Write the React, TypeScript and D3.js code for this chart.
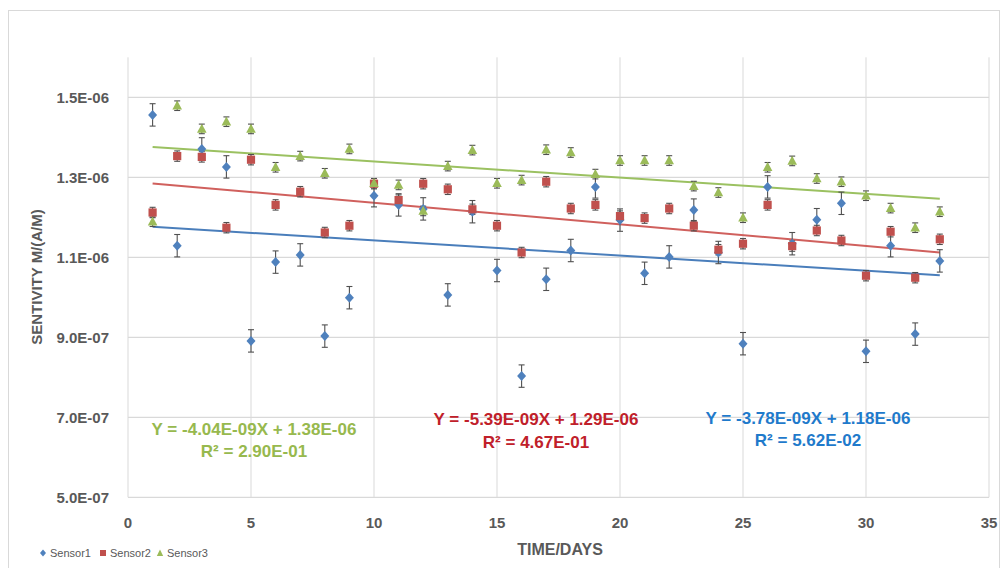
import React from "react";
import * as d3 from "d3";

// Days of measurement
const days = [1, 2, 3, 4, 5, 6, 7, 8, 9, 10, 11, 12, 13, 14, 15, 16, 17, 18, 19, 20, 21, 22, 23, 24, 25, 26, 27, 28, 29, 30, 31, 32, 33];

// Sensitivity values (x 1E-06)
const sensor1 = [1.456, 1.129, 1.371, 1.326, 0.891, 1.088, 1.106, 0.903, 0.999, 1.254, 1.231, 1.221, 1.006, 1.214, 1.067, 0.803, 1.045, 1.117, 1.276, 1.193, 1.06, 1.101, 1.218, 1.112, 0.884, 1.276, 1.134, 1.194, 1.235, 0.865, 1.129, 0.908, 1.091];
const sensor2 = [1.212, 1.353, 1.351, 1.174, 1.344, 1.231, 1.264, 1.162, 1.179, 1.284, 1.243, 1.284, 1.27, 1.22, 1.179, 1.112, 1.289, 1.222, 1.231, 1.203, 1.198, 1.222, 1.179, 1.119, 1.134, 1.231, 1.128, 1.167, 1.142, 1.054, 1.164, 1.049, 1.145];
const sensor3 = [1.189, 1.479, 1.421, 1.439, 1.421, 1.325, 1.353, 1.31, 1.371, 1.285, 1.281, 1.216, 1.328, 1.368, 1.285, 1.293, 1.369, 1.362, 1.308, 1.342, 1.342, 1.342, 1.278, 1.262, 1.199, 1.325, 1.341, 1.297, 1.289, 1.254, 1.223, 1.174, 1.214];

// Error bar half widths (x 1E-06)
const errors = [0.028, 0.013, 0.012];

const seriesNames = ["Sensor1", "Sensor2", "Sensor3"];

// Linear trendlines
const trendSlopes = [-3.78e-9, -5.39e-9, -4.04e-9];
const trendIntercepts = [1.18e-6, 1.29e-6, 1.38e-6];
const trendEquations = ["Y = -3.78E-09X + 1.18E-06", "Y = -5.39E-09X + 1.29E-06", "Y = -4.04E-09X + 1.38E-06"];
const trendR2 = ["R² = 5.62E-02", "R² = 4.67E-01", "R² = 2.90E-01"];

// Axis ticks
const yTicks = [5e-7, 7e-7, 9e-7, 1.1e-6, 1.3e-6, 1.5e-6];
const yTickLabels = ["5.0E-07", "7.0E-07", "9.0E-07", "1.1E-06", "1.3E-06", "1.5E-06"];
const xTicks = [0, 5, 10, 15, 20, 25, 30, 35];

const markerColors = ["#4f81bd", "#c0504d", "#9bbb59"];
const lineColors = ["#4a7ebb", "#d0605d", "#9bc161"];
const textColors = ["#1f7acb", "#c0202a", "#97b94e"];
const font = "'Liberation Sans Narrow', 'Liberation Sans', Arial, sans-serif";

function Marker({ kind, x, y, color }: { kind: number; x: number; y: number; color: string }) {
  if (kind === 0) {
    return <path d={`M${x},${y - 5}L${x + 4.5},${y}L${x},${y + 5}L${x - 4.5},${y}Z`} fill={color} />;
  }
  if (kind === 1) {
    return <rect x={x - 4.1} y={y - 4.1} width={8.2} height={8.2} fill={color} />;
  }
  return <path d={`M${x},${y - 5.2}L${x + 4.8},${y + 3.8}L${x - 4.8},${y + 3.8}Z`} fill={color} />;
}

export default function App() {
  const left = 128;
  const right = 989;
  const top = 57.3;
  const bottom = 497.3;

  const x = d3.scaleLinear().domain([0, 35]).range([left, right]);
  const y = d3.scaleLinear().domain([5e-7, 1.6e-6]).range([bottom, top]);

  const series = [sensor1, sensor2, sensor3];
  const firstDay = d3.min(days) as number;
  const lastDay = d3.max(days) as number;
  const trendLine = d3
    .line<[number, number]>()
    .x((d) => x(d[0]))
    .y((d) => y(d[1]));

  const labelPos = [
    { cx: 808, y1: 424, y2: 446 },
    { cx: 536, y1: 425, y2: 448 },
    { cx: 254, y1: 435, y2: 457 },
  ];

  return (
    <svg width={1001} height={568} style={{ position: "absolute", left: 0, top: 0, background: "#fff" }} fontFamily={font}>
      <rect x={8.5} y={10.5} width={991} height={570} fill="#fff" stroke="#d9d9d9" />

      {/* vertical gridlines */}
      {xTicks.map((t) => (
        <line key={"vx" + t} x1={x(t)} x2={x(t)} y1={top} y2={bottom} stroke="#d9d9d9" />
      ))}
      {/* horizontal gridlines */}
      {yTicks.map((t) => (
        <line key={"hy" + t} x1={left} x2={right} y1={y(t)} y2={y(t)} stroke="#d9d9d9" strokeWidth={1.2} />
      ))}

      {/* y tick labels */}
      {yTicks.map((t, i) => (
        <text key={"yl" + t} x={109} y={y(t)} dy="0.35em" textAnchor="end" fontSize={15} fontWeight="bold" fill="#595959">
          {yTickLabels[i]}
        </text>
      ))}
      {/* x tick labels */}
      {xTicks.map((t) => (
        <text key={"xl" + t} x={x(t)} y={523} dy="0.35em" textAnchor="middle" fontSize={15} fontWeight="bold" fill="#595959">
          {t}
        </text>
      ))}

      {/* trendlines */}
      {trendSlopes.map((m, i) => {
        const pts: [number, number][] = [firstDay, lastDay].map((d) => [d, m * d + trendIntercepts[i]]);
        return <path key={"tr" + i} d={trendLine(pts) || ""} fill="none" stroke={lineColors[i]} strokeWidth={2} />;
      })}

      {/* error bars */}
      {series.map((vals, si) =>
        vals.map((v, j) => {
          const cx = x(days[j]);
          const y0 = y((v - errors[si]) * 1e-6);
          const y1 = y((v + errors[si]) * 1e-6);
          return (
            <g key={`e${si}-${j}`} stroke="#505050" strokeWidth={1.1}>
              <line x1={cx} x2={cx} y1={y0} y2={y1} />
              <line x1={cx - 3} x2={cx + 3} y1={y0} y2={y0} />
              <line x1={cx - 3} x2={cx + 3} y1={y1} y2={y1} />
            </g>
          );
        })
      )}

      {/* markers */}
      {series.map((vals, si) =>
        vals.map((v, j) => <Marker key={`m${si}-${j}`} kind={si} x={x(days[j])} y={y(v * 1e-6)} color={markerColors[si]} />)
      )}

      {/* trendline equations */}
      {trendEquations.map((eq, i) => (
        <g key={"eq" + i} fontWeight="bold" fontSize={17} fill={textColors[i]} textAnchor="middle">
          <text x={labelPos[i].cx} y={labelPos[i].y1}>{eq}</text>
          <text x={labelPos[i].cx} y={labelPos[i].y2}>{trendR2[i]}</text>
        </g>
      ))}

      {/* axis titles */}
      <text x={560} y={555} textAnchor="middle" fontSize={16} fontWeight="bold" fill="#595959">
        TIME/DAYS
      </text>
      <text transform="translate(42,277) rotate(-90)" textAnchor="middle" fontSize={15} fontWeight="bold" fill="#595959">
        SENTIVITY M/(A/M)
      </text>

      {/* legend */}
      {seriesNames.map((n, i) => {
        const lx = [43, 103, 160][i];
        return (
          <g key={"lg" + i}>
            {i === 0 && <path d={`M${lx},${549.5}L${lx + 3},${553}L${lx},${556.5}L${lx - 3},${553}Z`} fill={markerColors[0]} />}
            {i === 1 && <rect x={lx - 3} y={550} width={6} height={6} fill={markerColors[1]} />}
            {i === 2 && <path d={`M${lx},${549.5}L${lx + 3.2},${556}L${lx - 3.2},${556}Z`} fill={markerColors[2]} />}
            <text x={lx + 7} y={553} dy="0.35em" fontSize={11} fill="#595959">
              {n}
            </text>
          </g>
        );
      })}
    </svg>
  );
}
